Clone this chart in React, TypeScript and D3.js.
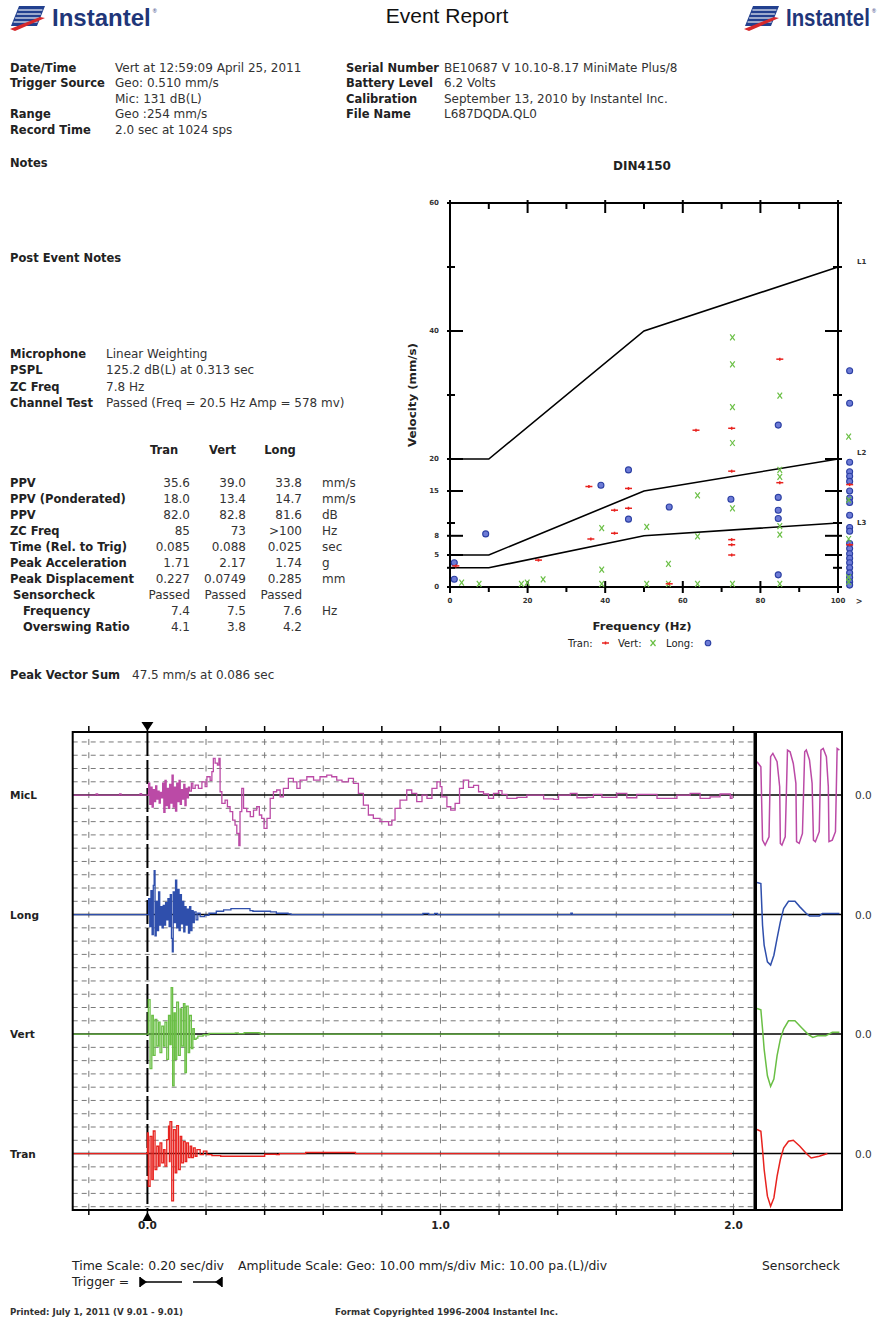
import React from 'react';
import * as d3 from 'd3';

const W = 881;
const H = 1321;
const BODY = 'DejaVu Sans';

// ---------- header text ----------
const leftLabels = ['Date/Time', 'Trigger Source', '', 'Range', 'Record Time'];
const leftValues = ['Vert at 12:59:09 April 25, 2011', 'Geo: 0.510 mm/s', 'Mic: 131 dB(L)', 'Geo :254 mm/s', '2.0 sec at 1024 sps'];
const rightLabels = ['Serial Number', 'Battery Level', 'Calibration', 'File Name'];
const rightValues = ['BE10687 V 10.10-8.17 MiniMate Plus/8', '6.2 Volts', 'September 13, 2010 by Instantel Inc.', 'L687DQDA.QL0'];
const micLabels = ['Microphone', 'PSPL', 'ZC Freq', 'Channel Test'];
const micValues = ['Linear Weighting', '125.2 dB(L) at 0.313 sec', '7.8 Hz', 'Passed (Freq = 20.5 Hz Amp = 578 mv)'];

// ---------- table ----------
const tableChannels = ['Tran', 'Vert', 'Long'];
const tableRows = ['PPV', 'PPV (Ponderated)', 'PPV', 'ZC Freq', 'Time (Rel. to Trig)', 'Peak Acceleration', 'Peak Displacement', 'Sensorcheck', 'Frequency', 'Overswing Ratio'];
const tableIndent = [0, 0, 0, 0, 0, 0, 0, 3, 13, 13];
const tranCol = ['35.6', '18.0', '82.0', '85', '0.085', '1.71', '0.227', 'Passed', '7.4', '4.1'];
const vertCol = ['39.0', '13.4', '82.8', '73', '0.088', '2.17', '0.0749', 'Passed', '7.5', '3.8'];
const longCol = ['33.8', '14.7', '81.6', '>100', '0.025', '1.74', '0.285', 'Passed', '7.6', '4.2'];
const unitCol = ['mm/s', 'mm/s', 'dB', 'Hz', 'sec', 'g', 'mm', '', 'Hz', ''];

// ---------- DIN4150 ----------
const yTickLabeled = [0, 5, 8, 15, 20, 40, 60];
const yTickMinor = [3, 10, 30, 50];
const xTickLabels = [0, 20, 40, 60, 80, 100];
const xTickMinor = [10, 30, 50, 70, 90];
const limitL1: [number, number][] = [[0, 20], [10, 20], [50, 40], [100, 50]];
const limitL2: [number, number][] = [[0, 5], [10, 5], [50, 15], [100, 20]];
const limitL3: [number, number][] = [[0, 3], [10, 3], [50, 8], [100, 10]];

const tranPts: [number, number][] = [
  [1.5, 3.3], [22.8, 4.2], [36.3, 7.5], [35.8, 15.7], [42.4, 8.4], [42.4, 12.0], [46, 12.3], [46, 15.4],
  [56.5, 0.5], [63.4, 24.5], [72.6, 24.8], [72.6, 18.1], [72.6, 7.4], [72.6, 6.6], [72.6, 5.0], [85, 16.3], [85, 35.6],
];
const tranOver = [16.0, 6.6];
const vertPts: [number, number][] = [
  [3, 0.7], [7.5, 0.5], [18.4, 0.5], [19.9, 0.7], [24, 1.2], [39.1, 0.5], [39.1, 2.7], [39.1, 9.2], [50.7, 9.4],
  [50.7, 0.5], [56.3, 3.6], [56.3, 0.5], [63.8, 14.3], [63.8, 7.9], [63.8, 0.5], [72.8, 39.0], [72.8, 34.8],
  [72.8, 28.1], [72.8, 22.5], [72.8, 12.3], [72.8, 0.5], [85, 29.9], [85, 18.3], [85, 17.2], [85, 9.5], [85, 8.2], [85, 0.5],
];
const vertOver = [23.5, 13.6, 7.5, 1.5, 0.8];
const longPts: [number, number][] = [
  [1.1, 3.8], [1.1, 1.2], [9.2, 8.3], [38.9, 15.9], [46, 18.3], [46, 10.6], [56.5, 12.5], [72.4, 13.7],
  [84.6, 25.3], [84.6, 14.0], [84.6, 12.0], [84.6, 10.7], [84.6, 1.9],
];
const longOver = [33.8, 28.7, 19.5, 18.0, 17.3, 16.5, 15.0, 13.9, 13.2, 11.2, 9.3, 8.7, 6.8, 6.0, 5.2, 4.5, 3.8, 3.0, 2.2, 1.5, 0.8, 0.3];

// ---------- waveforms: [time s, amplitude div] ----------
const micL: [number, number][] = [
  [-0.255, 0], [-0.18, 0], [-0.175, 0.08], [-0.17, 0], [-0.10, 0], [-0.095, 0.08], [-0.09, 0], [-0.03, 0], [-0.025, 0.1], [-0.02, 0], [0, 0],
  [0.004, 0.9], [0.008, -0.7], [0.012, 0.6], [0.016, -0.9], [0.020, 0.4], [0.024, -0.5], [0.028, 0.7], [0.032, -0.3], [0.036, 0.3],
  [0.040, -0.6], [0.044, 0.2], [0.048, -0.2], [0.052, 0.9], [0.056, -1.3], [0.060, 1.1], [0.064, -0.8], [0.068, 0.5], [0.072, -1.0],
  [0.076, 0.8], [0.080, -0.6], [0.084, 1.5], [0.088, -0.9], [0.092, 0.6], [0.096, -1.2], [0.100, 0.9], [0.104, -0.5], [0.108, 1.1],
  [0.112, -0.7], [0.116, 0.4], [0.120, -0.3], [0.124, 0.8], [0.128, -0.8], [0.132, 0.5], [0.136, -0.2], [0.140, 0.6], [0.144, 0.3],
  [0.150, 0.9], [0.155, 0.5], [0.163, 0.75], [0.174, 0.5], [0.186, 1.0], [0.197, 0.63], [0.203, 1.38], [0.214, 1.1], [0.220, 1.76],
  [0.225, 2.76], [0.231, 2.4], [0.239, 2.26], [0.244, 2.76], [0.248, 0.25], [0.254, -0.63], [0.265, -0.38], [0.273, -0.88],
  [0.282, -1.25], [0.291, -1.88], [0.299, -2.26], [0.305, -2.89], [0.312, -3.8], [0.316, -1.25], [0.322, 0.5], [0.328, -1.0],
  [0.339, -1.25], [0.351, -1.63], [0.362, -1.13], [0.373, -0.88], [0.382, -1.5], [0.390, -1.76], [0.398, -2.51], [0.408, -1.76],
  [0.419, -0.25], [0.430, 0.25], [0.441, 0.38], [0.453, -0.13], [0.464, 0.5], [0.481, 1.26], [0.498, 1.0], [0.510, 0.5],
  [0.521, 1.13], [0.544, 1.38], [0.567, 1.13], [0.589, 1.38], [0.612, 1.5], [0.629, 1.38], [0.646, 1.13], [0.664, 1.0],
  [0.686, 1.26], [0.703, 0.88], [0.720, 0.13], [0.737, -0.75], [0.754, -1.5], [0.771, -1.76], [0.794, -2.0], [0.823, -2.26],
  [0.834, -1.88], [0.845, -1.0], [0.862, -0.38], [0.885, 0.38], [0.902, 0.13], [0.919, -0.5], [0.937, 0], [0.954, -0.25],
  [0.971, 0.5], [0.988, 1.0], [0.999, 0.63], [1.005, -0.13], [1.022, -0.88], [1.035, -1.13], [1.050, -0.63], [1.065, 0.5],
  [1.078, 1.13], [1.096, 0.58], [1.113, 0.73], [1.130, 0.25], [1.147, 0.08], [1.164, -0.25], [1.181, 0.13], [1.198, 0.33],
  [1.210, 0.05], [1.227, -0.25], [1.261, -0.18], [1.295, 0], [1.352, -0.28], [1.386, -0.33], [1.403, 0], [1.443, 0.13],
  [1.466, -0.2], [1.500, -0.18], [1.522, 0.05], [1.551, -0.18], [1.602, 0.13], [1.636, -0.2], [1.670, 0.05], [1.704, 0.05],
  [1.739, -0.25], [1.778, -0.25], [1.807, 0], [1.852, 0.13], [1.886, -0.25], [1.920, -0.13], [1.954, 0.08], [1.989, -0.25], [1.995, 0],
];
const longWave: [number, number][] = [
  [-0.255, 0], [0, 0], [0.004, 1.2], [0.008, -0.9], [0.012, 1.8], [0.016, -1.5], [0.020, 2.2], [0.023, 3.3], [0.026, -1.6],
  [0.030, 1.0], [0.034, -1.2], [0.038, 1.7], [0.042, -0.8], [0.046, 0.6], [0.050, -1.0], [0.054, 0.7], [0.058, -0.8], [0.062, 0.9],
  [0.066, -0.4], [0.070, 1.2], [0.074, -0.9], [0.078, 1.5], [0.082, -1.8], [0.085, -2.8], [0.088, 1.7], [0.092, -0.6], [0.096, 2.6],
  [0.100, -1.0], [0.104, 1.9], [0.108, -1.2], [0.112, 1.5], [0.116, -0.7], [0.120, 1.0], [0.124, -1.3], [0.128, 0.6], [0.132, -0.8],
  [0.136, 0.4], [0.140, -1.4], [0.144, 0.6], [0.148, -1.2], [0.152, 0.3], [0.156, -0.6], [0.160, 0.2], [0.166, -0.4], [0.172, 0.1],
  [0.180, -0.15], [0.195, -0.05], [0.21, 0.1], [0.235, 0.25], [0.26, 0.35], [0.285, 0.45], [0.345, 0.45], [0.35, 0.3], [0.36, 0.25],
  [0.42, 0.2], [0.44, 0.1], [0.48, 0.05], [0.49, 0], [0.93, 0], [0.94, 0.08], [0.96, 0], [0.98, 0.08], [0.99, 0], [1.44, 0],
  [1.445, 0.1], [1.45, 0], [1.995, 0],
];
const vertWave: [number, number][] = [
  [-0.255, 0], [0, 0], [0.003, 2.6], [0.009, -2.6], [0.015, 1.4], [0.020, -1.6], [0.026, 1.1], [0.032, -0.9], [0.038, 0.9],
  [0.043, -1.4], [0.049, 0.6], [0.055, -0.9], [0.060, 0.9], [0.066, -1.9], [0.072, 1.4], [0.077, -0.8], [0.081, 3.5], [0.086, -3.9],
  [0.091, 1.6], [0.095, -1.9], [0.100, 2.4], [0.106, -1.6], [0.112, 1.9], [0.117, -0.9], [0.123, 2.3], [0.128, -2.9], [0.133, 2.1],
  [0.139, -1.4], [0.144, 1.4], [0.150, -1.1], [0.155, 0.4], [0.160, -0.4], [0.166, -0.3], [0.172, -0.15], [0.19, -0.05],
  [0.21, 0.05], [0.30, 0.08], [0.31, 0.03], [0.33, 0.1], [0.38, 0.08], [0.385, 0], [1.995, 0],
];
const tranWave: [number, number][] = [
  [-0.255, 0], [0, 1.56], [0.003, -2.46], [0.009, 1.3], [0.015, -1.96], [0.020, 1.7], [0.026, -1.2], [0.032, 0.55], [0.038, -0.95],
  [0.043, 0.8], [0.049, -0.7], [0.055, 0.3], [0.060, -0.95], [0.066, 1.05], [0.072, 2.06], [0.075, -0.6], [0.077, 2.4],
  [0.083, -3.56], [0.089, 1.8], [0.095, -1.45], [0.100, 2.1], [0.106, -1.2], [0.112, 1.3], [0.117, -0.7], [0.123, 0.9],
  [0.129, -0.6], [0.134, 0.8], [0.140, -0.3], [0.146, 0.55], [0.151, -0.3], [0.157, 0.43], [0.163, -0.2], [0.169, 0.3],
  [0.180, -0.08], [0.191, 0.18], [0.203, -0.08], [0.22, -0.15], [0.25, -0.2], [0.39, -0.2], [0.40, -0.05], [0.44, -0.08],
  [0.45, 0], [0.53, 0], [0.54, 0.08], [0.70, 0.08], [0.71, 0], [1.995, 0],
];

// ---------- sensorcheck: [fraction of box, amplitude div] ----------
const micSC: [number, number][] = [
  [0, 2.51], [0.046, 2.13], [0.066, -3.39], [0.097, -3.77], [0.143, -3.14], [0.162, 2.89], [0.189, 3.14], [0.239, 2.51], [0.27, 0.63],
  [0.278, -3.64], [0.297, -3.77], [0.336, -3.14], [0.363, 3.39], [0.394, 3.26], [0.432, 2.38], [0.463, 0.88], [0.471, -3.51],
  [0.502, -3.64], [0.541, -2.89], [0.568, 3.26], [0.587, 3.39], [0.625, 2.64], [0.656, 0.88], [0.672, -3.39], [0.695, -3.51],
  [0.741, -2.76], [0.761, 3.39], [0.788, 3.51], [0.826, 2.89], [0.849, 0.63], [0.857, -3.51], [0.896, -3.39], [0.934, -2.76],
  [0.954, 3.51], [0.981, 3.39],
];
const longSC: [number, number][] = [
  [0, 2.41], [0.046, 2.33], [0.066, -0.8], [0.085, -2.3], [0.124, -3.56], [0.162, -3.8], [0.201, -3.06], [0.239, -1.8],
  [0.278, -0.55], [0.317, 0.45], [0.375, 1.0], [0.452, 1.0], [0.51, 0.58], [0.587, 0.08], [0.625, -0.1], [0.741, -0.1],
  [0.78, 0.08], [0.857, 0.08], [0.981, 0.08],
];
const vertSC: [number, number][] = [
  [0, 1.93], [0.046, 1.83], [0.066, 0.38], [0.085, -1.13], [0.124, -3.14], [0.162, -3.94], [0.201, -3.39], [0.239, -1.63],
  [0.278, -0.38], [0.317, 0.38], [0.375, 1.0], [0.452, 1.0], [0.529, 0.5], [0.606, 0], [0.664, -0.25], [0.722, -0.13],
  [0.819, -0.13], [0.896, 0.13], [0.981, 0.13],
];
const tranSC: [number, number][] = [
  [0, 1.81], [0.046, 1.68], [0.066, 0.3], [0.085, -1.2], [0.124, -3.21], [0.162, -3.97], [0.201, -3.34], [0.239, -1.71],
  [0.278, -0.45], [0.317, 0.43], [0.375, 0.93], [0.432, 1.0], [0.51, 0.55], [0.587, 0], [0.645, -0.33], [0.741, -0.2], [0.838, 0],
];

const timeTicks = [-0.2, 0, 0.2, 0.4, 0.6, 0.8, 1.0, 1.2, 1.4, 1.6, 1.8, 2.0];
const timeLabels = [0, 1, 2];

const C_MIC = '#bb4aa6';
const C_LONG = '#2f4fac';
const C_VERT = '#6abf45';
const C_TRAN = '#e8231f';

function Logo({ x, y, sx }: { x: number; y: number; sx: number }) {
  const textW = 98.7 * sx;
  return (
    <g transform={`translate(${x},${y})`}>
      <polygon points="9,0 35,0 27,20 1,20" fill="#22408f" />
      {[4, 8, 12, 16].map((s) => (
        <line key={s} x1={9 - s * 0.4 + 1} x2={35 - s * 0.4 - 1} y1={s} y2={s} stroke="#ffffff" strokeWidth={1.1} />
      ))}
      <polygon points="0,23 30,11 35,12 5,25" fill="#d6282b" />
      <g transform={`translate(42,0) scale(${sx},1)`}>
        <text x={0} y={20} fontFamily="Liberation Sans" fontWeight="bold" fontSize={24} fill="#1f3679">Instantel</text>
      </g>
      <text x={44 + textW} y={7} fontFamily="Liberation Sans" fontSize={5.5} fill="#1f3679">®</text>
    </g>
  );
}

export default function App() {
  // DIN4150 scales
  const xF = d3.scaleLinear().domain([0, 100]).range([450, 838]);
  const yV = d3.scaleLinear().domain([0, 60]).range([587, 203]);
  const xOver = xF(103);
  const limitLine = d3.line<[number, number]>().x((d) => xF(d[0])).y((d) => yV(d[1]));

  // waveform scales
  const xT = d3.scaleLinear().domain([-0.255, 2.07]).range([72.7, 754]);
  const yD = d3.scaleLinear().domain([-4.25, 31.75]).range([1210, 732]);
  const xS = d3.scaleLinear().domain([0, 1]).range([757, 841]);
  const divPx = yD(0) - yD(1);

  const channels = [
    { name: 'MicL', off: 27, color: C_MIC, data: micL, sc: micSC },
    { name: 'Long', off: 18, color: C_LONG, data: longWave, sc: longSC },
    { name: 'Vert', off: 9, color: C_VERT, data: vertWave, sc: vertSC },
    { name: 'Tran', off: 0, color: C_TRAN, data: tranWave, sc: tranSC },
  ];

  const gridRows = d3.range(-4, 32).filter((k) => ![0, 9, 18, 27].includes(k));
  const vGrid = timeTicks.filter((t) => t !== 0);
  const firstRowY = yD(31);
  const vDashOffset = divPx - ((firstRowY - 3) - 732);

  const waveLine = (off: number) =>
    d3.line<[number, number]>().x((d) => xT(d[0])).y((d) => yD(d[1] + off)).curve(d3.curveStepAfter);
  const scLine = (off: number) =>
    d3.line<[number, number]>().x((d) => xS(d[0])).y((d) => yD(d[1] + off)).curve(d3.curveLinear);

  const rowY = (i: number) => 67.5 + i * 15.5;
  const micY = [354, 370, 387, 403];
  const tRowY = (i: number) => 483 + i * 16.05;
  const LAB = 11.5;
  const VAL = 12;

  return (
    <svg width={W} height={H} style={{ position: 'absolute', left: 0, top: 0, background: '#ffffff' }} fontFamily={BODY}>
      <rect x={0} y={0} width={W} height={H} fill="#ffffff" />
      {/* header */}
      <Logo x={10} y={6} sx={1} />
      <Logo x={744} y={6} sx={0.85} />
      <text x={447} y={23} textAnchor="middle" fontFamily="Liberation Sans" fontSize={21} fill="#111">Event Report</text>

      {leftLabels.map((l, i) => (
        <text key={'ll' + i} x={10} y={rowY(i)} dominantBaseline="central" fontSize={LAB} fontWeight="bold" fill="#222">{l}</text>
      ))}
      {leftValues.map((v, i) => (
        <text key={'lv' + i} x={115} y={rowY(i)} dominantBaseline="central" fontSize={VAL} fill="#333">{v}</text>
      ))}
      {rightLabels.map((l, i) => (
        <text key={'rl' + i} x={346} y={rowY(i)} dominantBaseline="central" fontSize={LAB} fontWeight="bold" fill="#222">{l}</text>
      ))}
      {rightValues.map((v, i) => (
        <text key={'rv' + i} x={444} y={rowY(i)} dominantBaseline="central" fontSize={VAL} fill="#333">{v}</text>
      ))}

      <text x={10} y={163} dominantBaseline="central" fontSize={LAB} fontWeight="bold" fill="#222">Notes</text>
      <text x={10} y={258} dominantBaseline="central" fontSize={LAB} fontWeight="bold" fill="#222">Post Event Notes</text>
      {micLabels.map((l, i) => (
        <text key={'ml' + i} x={10} y={micY[i]} dominantBaseline="central" fontSize={LAB} fontWeight="bold" fill="#222">{l}</text>
      ))}
      {micValues.map((v, i) => (
        <text key={'mv' + i} x={106} y={micY[i]} dominantBaseline="central" fontSize={VAL} fill="#333">{v}</text>
      ))}

      {/* table */}
      {tableChannels.map((c, i) => (
        <text key={'tc' + i} x={[164, 222.5, 280][i]} y={450} textAnchor="middle" dominantBaseline="central" fontSize={LAB} fontWeight="bold" fill="#222">{c}</text>
      ))}
      {tableRows.map((r, i) => (
        <g key={'tr' + i}>
          <text x={10 + tableIndent[i]} y={tRowY(i)} dominantBaseline="central" fontSize={LAB} fontWeight="bold" fill="#222">{r}</text>
          <text x={190} y={tRowY(i)} textAnchor="end" dominantBaseline="central" fontSize={VAL} fill="#333">{tranCol[i]}</text>
          <text x={246} y={tRowY(i)} textAnchor="end" dominantBaseline="central" fontSize={VAL} fill="#333">{vertCol[i]}</text>
          <text x={302} y={tRowY(i)} textAnchor="end" dominantBaseline="central" fontSize={VAL} fill="#333">{longCol[i]}</text>
          <text x={322} y={tRowY(i)} dominantBaseline="central" fontSize={VAL} fill="#333">{unitCol[i]}</text>
        </g>
      ))}
      <text x={10} y={675} dominantBaseline="central" fontSize={LAB} fontWeight="bold" fill="#222">Peak Vector Sum</text>
      <text x={132} y={675} dominantBaseline="central" fontSize={VAL} fill="#333">47.5 mm/s at 0.086 sec</text>

      {/* DIN4150 chart */}
      <text x={642} y={166} textAnchor="middle" dominantBaseline="central" fontSize={12} fontWeight="bold" fill="#222">DIN4150</text>
      <rect x={xF(0)} y={yV(60)} width={xF(100) - xF(0)} height={yV(0) - yV(60)} fill="none" stroke="#000" strokeWidth={2} />
      {yTickLabeled.map((v) => (
        <g key={'yl' + v}>
          <line x1={xF(0) - 3} x2={xF(0) + 13} y1={yV(v)} y2={yV(v)} stroke="#000" strokeWidth={2} />
          <line x1={xF(100) - 13} x2={xF(100) + 4} y1={yV(v)} y2={yV(v)} stroke="#000" strokeWidth={2} />
          <text x={439} y={yV(v)} textAnchor="end" dominantBaseline="central" fontSize={7} fontWeight="bold" fill="#333">{v}</text>
        </g>
      ))}
      {yTickMinor.map((v) => (
        <g key={'ym' + v}>
          <line x1={xF(0) - 3} x2={xF(0) + 5} y1={yV(v)} y2={yV(v)} stroke="#000" strokeWidth={2} />
          <line x1={xF(100) - 5} x2={xF(100) + 4} y1={yV(v)} y2={yV(v)} stroke="#000" strokeWidth={2} />
        </g>
      ))}
      {xTickLabels.map((v) => (
        <g key={'xl' + v}>
          <line x1={xF(v)} x2={xF(v)} y1={yV(0) - 6} y2={yV(0) + 6} stroke="#000" strokeWidth={2} />
          <line x1={xF(v)} x2={xF(v)} y1={yV(60) - 3} y2={yV(60) + 10} stroke="#000" strokeWidth={2} />
          <text x={xF(v)} y={601} textAnchor="middle" dominantBaseline="central" fontSize={7} fontWeight="bold" fill="#333">{v}</text>
        </g>
      ))}
      {xTickMinor.map((v) => (
        <g key={'xm' + v}>
          <line x1={xF(v)} x2={xF(v)} y1={yV(0)} y2={yV(0) + 5} stroke="#000" strokeWidth={2} />
          <line x1={xF(v)} x2={xF(v)} y1={yV(60)} y2={yV(60) + 6} stroke="#000" strokeWidth={2} />
        </g>
      ))}
      <text x={859} y={601} textAnchor="middle" dominantBaseline="central" fontSize={8} fontWeight="bold" fill="#333">&gt;</text>
      <text x={642} y={626} textAnchor="middle" dominantBaseline="central" fontSize={11} fontWeight="bold" fill="#222" textLength={99} lengthAdjust="spacingAndGlyphs">Frequency (Hz)</text>
      <text transform={`translate(412,395) rotate(-90)`} textAnchor="middle" dominantBaseline="central" fontSize={11} fontWeight="bold" fill="#222" textLength={104} lengthAdjust="spacingAndGlyphs">Velocity (mm/s)</text>

      {[limitL1, limitL2, limitL3].map((l, i) => (
        <path key={'lim' + i} d={limitLine(l) || ''} fill="none" stroke="#000" strokeWidth={1.6} />
      ))}
      <text x={857} y={yV(50) - 5} dominantBaseline="central" fontSize={7} fontWeight="bold" fill="#333">L1</text>
      <text x={857} y={yV(20) - 6} dominantBaseline="central" fontSize={7} fontWeight="bold" fill="#333">L2</text>
      <text x={857} y={yV(10)} dominantBaseline="central" fontSize={7} fontWeight="bold" fill="#333">L3</text>

      {/* scatter */}
      {longPts.map((p, i) => (
        <circle key={'lp' + i} cx={xF(p[0])} cy={yV(p[1])} r={3} fill="#6d7bd6" stroke="#2b3fa3" strokeWidth={1.1} />
      ))}
      {longOver.map((v, i) => (
        <circle key={'lo' + i} cx={xOver} cy={yV(v)} r={3} fill="#6d7bd6" stroke="#2b3fa3" strokeWidth={1.1} />
      ))}
      {vertPts.map((p, i) => (
        <g key={'vp' + i} stroke={C_VERT} strokeWidth={1.2}>
          <line x1={xF(p[0]) - 2.3} x2={xF(p[0]) + 2.3} y1={yV(p[1]) - 3} y2={yV(p[1]) + 3} />
          <line x1={xF(p[0]) + 2.3} x2={xF(p[0]) - 2.3} y1={yV(p[1]) - 3} y2={yV(p[1]) + 3} />
        </g>
      ))}
      {vertOver.map((v, i) => (
        <g key={'vo' + i} stroke={C_VERT} strokeWidth={1.2}>
          <line x1={xOver - 3.3} x2={xOver + 1.3} y1={yV(v) - 3} y2={yV(v) + 3} />
          <line x1={xOver + 1.3} x2={xOver - 3.3} y1={yV(v) - 3} y2={yV(v) + 3} />
        </g>
      ))}
      {tranPts.map((p, i) => (
        <g key={'tp' + i} stroke={C_TRAN} strokeWidth={1.5}>
          <line x1={xF(p[0]) - 3.5} x2={xF(p[0]) + 3.5} y1={yV(p[1])} y2={yV(p[1])} />
          <line x1={xF(p[0])} x2={xF(p[0])} y1={yV(p[1]) - 1.5} y2={yV(p[1]) + 1.5} />
        </g>
      ))}
      {tranOver.map((v, i) => (
        <g key={'to' + i} stroke={C_TRAN} strokeWidth={1.5}>
          <line x1={xOver - 3.5} x2={xOver + 3.5} y1={yV(v)} y2={yV(v)} />
          <line x1={xOver} x2={xOver} y1={yV(v) - 1.5} y2={yV(v) + 1.5} />
        </g>
      ))}

      {/* legend */}
      <text x={568} y={643} dominantBaseline="central" fontSize={10} fill="#222">Tran:</text>
      <g stroke={C_TRAN} strokeWidth={1.5}>
        <line x1={602} x2={609} y1={643} y2={643} />
        <line x1={605.5} x2={605.5} y1={641.5} y2={644.5} />
      </g>
      <text x={618} y={643} dominantBaseline="central" fontSize={10} fill="#222">Vert:</text>
      <g stroke={C_VERT} strokeWidth={1.2}>
        <line x1={650.5} x2={655.5} y1={640} y2={646} />
        <line x1={655.5} x2={650.5} y1={640} y2={646} />
      </g>
      <text x={666} y={643} dominantBaseline="central" fontSize={10} fill="#222">Long:</text>
      <circle cx={708} cy={643} r={2.8} fill="#6d7bd6" stroke="#2b3fa3" strokeWidth={1.1} />

      {/* waveform grid */}
      {gridRows.map((k) => (
        <line key={'gr' + k} x1={xT.range()[0]} x2={754} y1={yD(k)} y2={yD(k)} stroke="#7a7a7a" strokeWidth={1} strokeDasharray="5,4" />
      ))}
      {vGrid.map((t) => (
        <line key={'gv' + t} x1={xT(t)} x2={xT(t)} y1={732} y2={1210} stroke="#7a7a7a" strokeWidth={1} strokeDasharray={`6,${divPx - 6}`} strokeDashoffset={vDashOffset} />
      ))}
      {channels.map((c) => (
        <line key={'z' + c.name} x1={xT.range()[0]} x2={842} y1={yD(c.off)} y2={yD(c.off)} stroke="#000" strokeWidth={1.6} />
      ))}
      {/* trigger line */}
      <line x1={xT(0)} x2={xT(0)} y1={732} y2={1210} stroke="#000" strokeWidth={2} strokeDasharray="24,4" />

      {/* signals */}
      {channels.map((c) => (
        <g key={'s' + c.name}>
          <path d={waveLine(c.off)(c.data) || ''} fill="none" stroke={c.color} strokeWidth={1.3} />
          <path d={scLine(c.off)(c.sc) || ''} fill="none" stroke={c.color} strokeWidth={1.5} />
        </g>
      ))}

      {/* frames */}
      <line x1={72.7} x2={72.7} y1={731} y2={1211} stroke="#000" strokeWidth={2} />
      <line x1={72.7} x2={754} y1={732} y2={732} stroke="#000" strokeWidth={2} />
      <line x1={72.7} x2={754} y1={1210} y2={1210} stroke="#000" strokeWidth={2} />
      <line x1={755} x2={755} y1={731} y2={1211} stroke="#000" strokeWidth={3} />
      <rect x={756} y={732} width={86} height={478} fill="none" stroke="#000" strokeWidth={2} />
      {timeTicks.map((t) => (
        <g key={'tt' + t}>
          <line x1={xT(t)} x2={xT(t)} y1={726} y2={732} stroke="#000" strokeWidth={1.5} />
          <line x1={xT(t)} x2={xT(t)} y1={1210} y2={1215} stroke="#000" strokeWidth={1.5} />
        </g>
      ))}
      <polygon points={`${xT(0) - 6},722 ${xT(0) + 6},722 ${xT(0)},731`} fill="#000" />
      <polygon points={`${xT(0) - 5},1221 ${xT(0) + 5},1221 ${xT(0)},1212`} fill="#000" />
      {timeLabels.map((t) => (
        <text key={'tl' + t} x={xT(t)} y={1225} textAnchor="middle" dominantBaseline="central" fontSize={10.5} fontWeight="bold" fill="#222">{t.toFixed(1)}</text>
      ))}

      {channels.map((c) => (
        <g key={'lab' + c.name}>
          <text x={10} y={yD(c.off)} dominantBaseline="central" fontSize={10.5} fontWeight="bold" fill="#222">{c.name}</text>
          <text x={855} y={yD(c.off)} dominantBaseline="central" fontSize={10.5} fill="#333">0.0</text>
        </g>
      ))}

      {/* bottom text */}
      <text x={72} y={1266} dominantBaseline="central" fontSize={11.5} fill="#222" textLength={152} lengthAdjust="spacingAndGlyphs">Time Scale: 0.20 sec/div</text>
      <text x={238} y={1266} dominantBaseline="central" fontSize={11.5} fill="#222" textLength={369} lengthAdjust="spacingAndGlyphs">Amplitude Scale: Geo: 10.00 mm/s/div Mic: 10.00 pa.(L)/div</text>
      <text x={762} y={1266} dominantBaseline="central" fontSize={11.5} fill="#222" textLength={78} lengthAdjust="spacingAndGlyphs">Sensorcheck</text>
      <text x={72} y={1282} dominantBaseline="central" fontSize={11.5} fill="#222" textLength={57} lengthAdjust="spacingAndGlyphs">Trigger =</text>
      <g stroke="#000" strokeWidth={1.5}>
        <line x1={140} x2={140} y1={1277} y2={1287} />
        <line x1={146} x2={182} y1={1282} y2={1282} />
        <line x1={193} x2={216} y1={1282} y2={1282} />
        <line x1={222} x2={222} y1={1277} y2={1287} />
      </g>
      <polygon points="140,1277 147,1282 140,1287" fill="#000" />
      <polygon points="222,1277 215,1282 222,1287" fill="#000" />

      <text x={10} y={1312} dominantBaseline="central" fontSize={8.6} fontWeight="bold" fill="#333" textLength={173} lengthAdjust="spacingAndGlyphs">Printed: July 1, 2011 (V 9.01 - 9.01)</text>
      <text x={335} y={1312} dominantBaseline="central" fontSize={8.6} fontWeight="bold" fill="#333" textLength={223} lengthAdjust="spacingAndGlyphs">Format Copyrighted 1996-2004 Instantel Inc.</text>
    </svg>
  );
}
